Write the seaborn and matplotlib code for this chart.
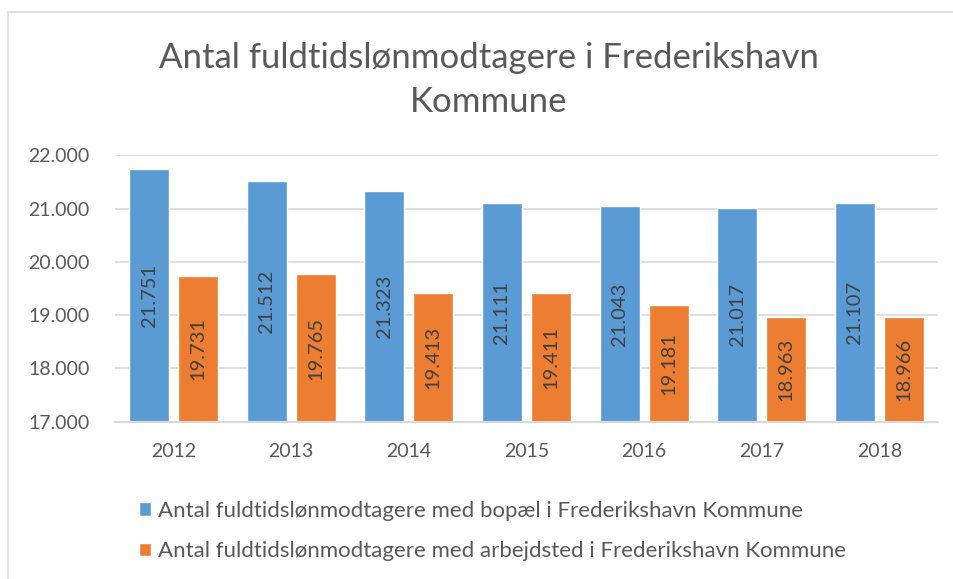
import matplotlib
matplotlib.use("Agg")
import matplotlib.pyplot as plt
import seaborn as sns
import pandas as pd
from matplotlib.patches import Rectangle

years = ["2012", "2013", "2014", "2015", "2016", "2017", "2018"]
bopael = [21751, 21512, 21323, 21111, 21043, 21017, 21107]
arbejdsted = [19731, 19765, 19413, 19411, 19181, 18963, 18966]
series_names = [
    "Antal fuldtidslønmodtagere med bopæl i Frederikshavn Kommune",
    "Antal fuldtidslønmodtagere med arbejdsted i Frederikshavn Kommune",
]
title = "Antal fuldtidslønmodtagere i Frederikshavn\nKommune"
yticks = [17000, 18000, 19000, 20000, 21000, 22000]

df = pd.DataFrame({
    "year": years * 2,
    "value": bopael + arbejdsted,
    "series": [series_names[0]] * len(years) + [series_names[1]] * len(years),
})

sns.set_theme(style="white")
plt.rcParams["font.family"] = ["Lato", "DejaVu Sans"]

TXT = "#595959"
fig = plt.figure(figsize=(9.54, 5.79), dpi=100)
ax = fig.add_axes([114.7 / 954, 1 - 421.7 / 579, 823.6 / 954, (421.7 - 155.3) / 579])

sns.barplot(data=df, x="year", y="value", hue="series",
            palette=["#5B9BD5", "#ED7D31"], width=0.833, gap=0.19,
            saturation=1, ax=ax, legend=True)

ymin, ymax = 17000, 22000
ax.set_ylim(ymin, ymax)
ax.set_yticks(yticks)
ax.set_yticklabels([f"{v:,}".replace(",", ".") for v in yticks])
ax.set_xlim(-0.5, len(years) - 0.5)
ax.set_xlabel("")
ax.set_ylabel("")
ax.yaxis.grid(True, color="#D9D9D9", linewidth=1.2)
ax.set_axisbelow(True)
for s in ["left", "right", "top"]:
    ax.spines[s].set_visible(False)
ax.spines["bottom"].set_color("#D9D9D9")
ax.spines["bottom"].set_linewidth(1.5)
ax.tick_params(axis="y", length=0, pad=18, labelsize=14, labelcolor=TXT)
ax.tick_params(axis="x", length=0, pad=15, labelsize=14, labelcolor=TXT)

for cont in ax.containers:
    for patch in cont.patches:
        h = patch.get_height()
        ax.text(patch.get_x() + patch.get_width() / 2, (ymin + h) / 2,
                f"{int(round(h)):,}".replace(",", "."),
                rotation=90, ha="center", va="center",
                fontsize=14.5, color="#404040")

handles, labels = ax.get_legend_handles_labels()
ax.legend_.remove()
fig.legend(handles, labels, loc="upper left",
           bbox_to_anchor=(139 / 954, 1 - 501 / 579),
           frameon=False, fontsize=16, labelcolor=TXT, borderpad=0,
           borderaxespad=0,
           handlelength=0.55, handleheight=0.55, handletextpad=0.32,
           labelspacing=0.92)

fig.text(489 / 954, 1 - 80 / 579, title, ha="center", va="center",
         fontsize=25, color=TXT, linespacing=1.5)

fig.patches.append(Rectangle((8 / 954, -0.05), 1.1, 1 - 12 / 579 + 0.05,
                             transform=fig.transFigure, fill=False,
                             edgecolor="#D9D9D9", linewidth=1.2))

fig.savefig("out.png", dpi=100)
